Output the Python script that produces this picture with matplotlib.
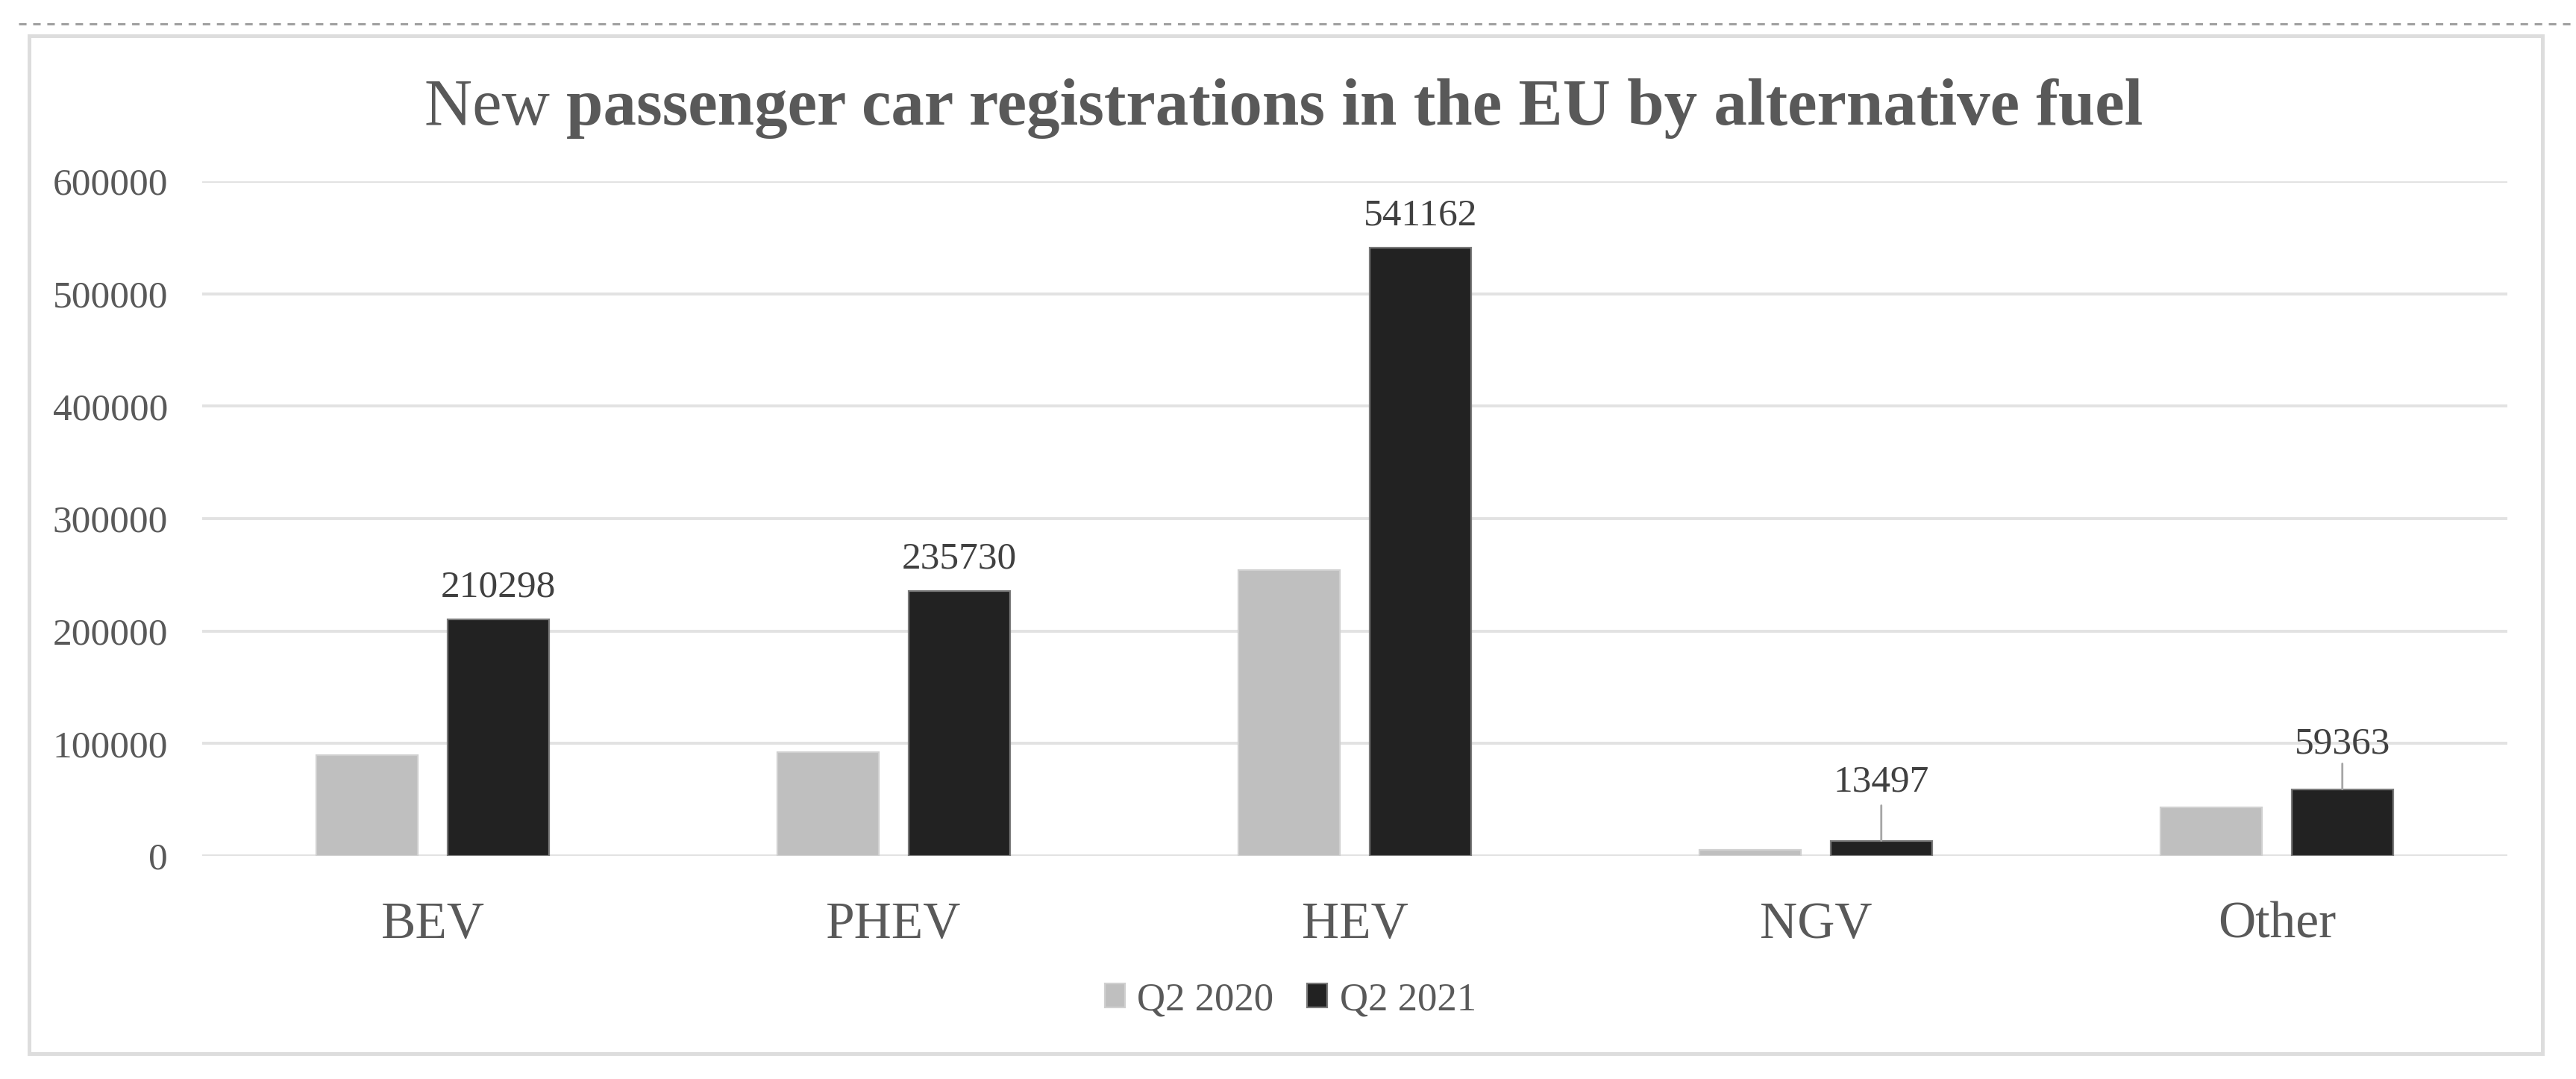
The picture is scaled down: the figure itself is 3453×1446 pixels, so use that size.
import matplotlib.pyplot as plt
from matplotlib.lines import Line2D
from matplotlib.patches import Rectangle
import numpy as np

categories = ["BEV", "PHEV", "HEV", "NGV", "Other"]
series_names = ["Q2 2020", "Q2 2021"]
q2_2020 = [89600, 92300, 254200, 5500, 43100]
q2_2021 = [210298, 235730, 541162, 13497, 59363]
y_ticks = [0, 100000, 200000, 300000, 400000, 500000, 600000]

serif = "Liberation Serif"
grey_txt = "#595959"

plt.rcParams['font.family'] = [serif, 'DejaVu Serif']

fig = plt.figure(figsize=(17.265, 7.23), dpi=200)
W, H = 3453.0, 1446.0

# outer dashed rule and chart frame
fig.add_artist(Line2D([25 / W, 1.0], [1 - 32 / H, 1 - 32 / H], color="#a0a0a0",
                      lw=1.1, dashes=(3.3, 2.9), transform=fig.transFigure))
fig.add_artist(Rectangle((39 / W, 1 - 1412 / H), (3408 - 39) / W, (1412 - 48) / H,
                         fill=False, edgecolor="#dddddd", lw=1.8,
                         transform=fig.transFigure))

ax = fig.add_axes([271 / W, 1 - 1147 / H, 3090 / W, (1147 - 243) / H])

x = np.arange(len(categories))
bw = 0.22
off = 0.142
b1 = ax.bar(x - off, q2_2020, bw, color="#bfbfbf", edgecolor="#d0d0d0",
            lw=0.8, label=series_names[0], zorder=3)
b2 = ax.bar(x + off, q2_2021, bw, color="#222222", edgecolor="#7a7a7a",
            lw=0.8, label=series_names[1], zorder=3)

ax.set_xlim(-0.5, len(categories) - 0.5)
ax.set_ylim(0, 600000)
ax.set_yticks(y_ticks)
ax.set_yticklabels([str(v) for v in y_ticks])
ax.set_xticks(x)
ax.set_xticklabels(categories)
ax.grid(axis="y", color="#e2e2e2", lw=1.4, zorder=0)
ax.set_axisbelow(True)
for s in ax.spines.values():
    s.set_visible(False)
ax.tick_params(axis="y", length=0, pad=16.5, labelsize=18.5, labelcolor=grey_txt)
ax.tick_params(axis="x", length=0, pad=22, labelsize=25, labelcolor=grey_txt)

# data labels for the Q2 2021 series (label gap, leader line length in pt)
label_gap = [11, 11, 11, 23.8, 17.3]
leader = [0, 0, 0, 17, 12.3]
for xi, v, g, ln in zip(x + off, q2_2021, label_gap, leader):
    ax.annotate(str(v), xy=(xi, v), xytext=(0, g), textcoords="offset points",
                ha="center", va="baseline", fontsize=18.5, color="#404040")
    if ln:
        ax.annotate("", xy=(xi, v), xytext=(0, ln), textcoords="offset points",
                    arrowprops=dict(arrowstyle="-", color="#a6a6a6", lw=1.0,
                                    shrinkA=0, shrinkB=0))

leg = fig.legend(handles=[b1, b2], labels=series_names, loc="center",
                 bbox_to_anchor=(1730 / W, 1 - 1340 / H), ncol=2, frameon=False,
                 fontsize=19, handlelength=0.5, handleheight=0.55,
                 handletextpad=0.32, columnspacing=0.85)
for t in leg.get_texts():
    t.set_color(grey_txt)

# title: "New" regular, rest bold
title_y = 1 - 167 / H
renderer = fig.canvas.get_renderer()
t1 = fig.text(0, title_y, "New ", fontsize=32, color=grey_txt, va="baseline")
t2 = fig.text(0, title_y, "passenger car registrations in the EU by alternative fuel",
              fontsize=32, fontweight="bold", color=grey_txt, va="baseline")
w1 = t1.get_window_extent(renderer).width / (W)
w2 = t2.get_window_extent(renderer).width / (W)
x0 = 1721 / W - (w1 + w2) / 2
t1.set_x(x0)
t2.set_x(x0 + w1)

fig.savefig("out.png", dpi=200, facecolor="white")
